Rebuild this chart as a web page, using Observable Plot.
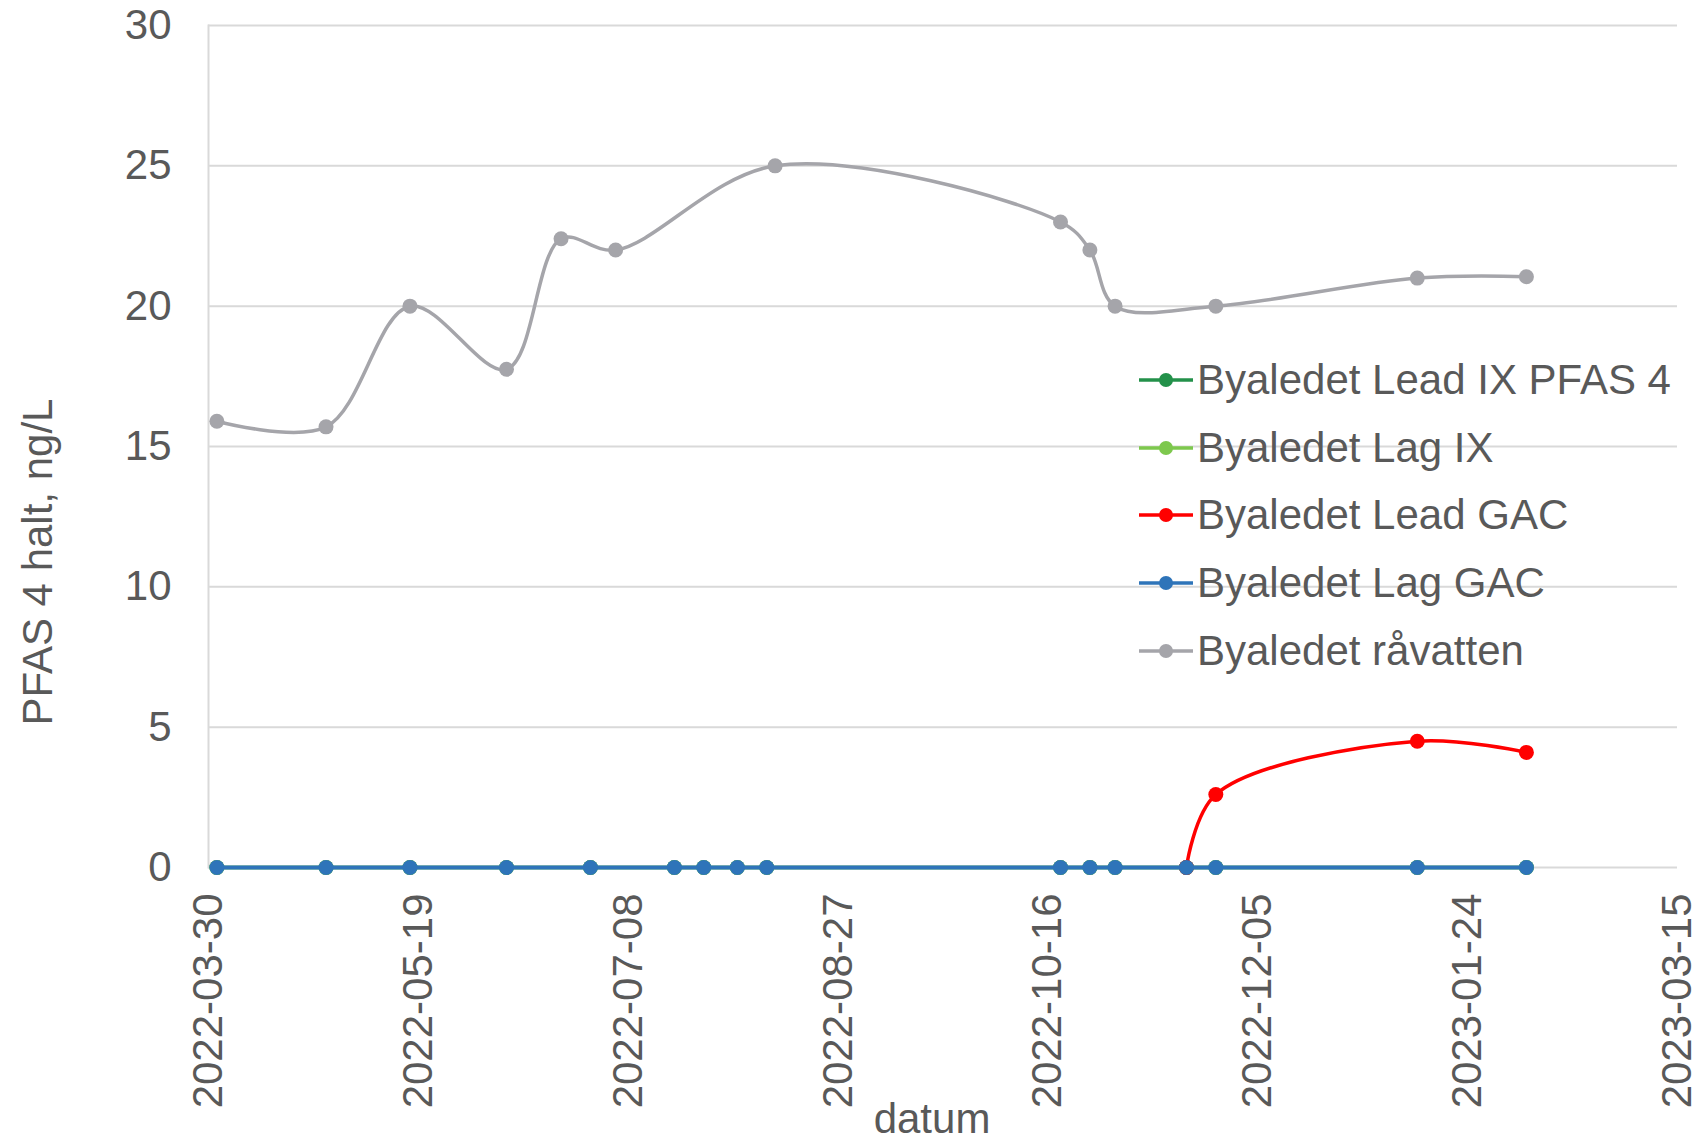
<!DOCTYPE html>
<html><head><meta charset="utf-8">
<script src="https://cdn.jsdelivr.net/npm/d3@7"></script>
<script src="https://cdn.jsdelivr.net/npm/@observablehq/plot@0.6"></script>
<style>
body{margin:0;background:#fff;}
#wrap{position:relative;width:1708px;height:1139px;font-family:"Liberation Sans",Arial,sans-serif;}
.row{position:absolute;left:1139px;height:60px;display:flex;align-items:center;white-space:nowrap;font-size:42px;color:#595959;}
.row svg{margin-right:4px;}
.ytitle{position:absolute;left:38px;top:562px;transform:translate(-50%,-50%) rotate(-90deg);white-space:nowrap;font-size:42px;color:#595959;line-height:1;}
</style></head><body><div id="wrap"></div><script>
// ---- data ----
const seriesNames = ["Byaledet Lead IX PFAS 4","Byaledet Lag IX","Byaledet Lead GAC","Byaledet Lag GAC","Byaledet råvatten"];
const seriesColors = ["#23914A","#7DC84D","#FF0000","#2E74B9","#A5A5AA"];

const lagGacDates = ["2022-04-01","2022-04-27","2022-05-17","2022-06-09","2022-06-29","2022-07-19","2022-07-26","2022-08-03","2022-08-10","2022-10-19","2022-10-26","2022-11-01","2022-11-18","2022-11-25","2023-01-12","2023-02-07"];
const lagGacValues = [0,0,0,0,0,0,0,0,0,0,0,0,0,0,0,0];
const leadIxDates = lagGacDates;
const leadIxValues = [0,0,0,0,0,0,0,0,0,0,0,0,0,0,0,0];
const lagIxDates = lagGacDates;
const lagIxValues = [0,0,0,0,0,0,0,0,0,0,0,0,0,0,0,0];
const leadGacDates = ["2022-11-18","2022-11-25","2023-01-12","2023-02-07"];
const leadGacValues = [0,2.6,4.5,4.1];
const rawDates = ["2022-04-01","2022-04-27","2022-05-17","2022-06-09","2022-06-22","2022-07-05","2022-08-12","2022-10-19","2022-10-26","2022-11-01","2022-11-25","2023-01-12","2023-02-07"];
const rawValues = [15.9,15.7,20.0,17.75,22.4,22.0,25.0,23.0,22.0,20.0,20.0,21.0,21.05];

const xTickLabels = ["2022-03-30","2022-05-19","2022-07-08","2022-08-27","2022-10-16","2022-12-05","2023-01-24","2023-03-15"];
const yTicks = [0,5,10,15,20,25,30];
const xLabel = "datum";
const yLabel = "PFAS 4 halt, ng/L";

// ---- build ----
const parse = d3.utcParse("%Y-%m-%d");
const fmt = d3.utcFormat("%Y-%m-%d");
const xTicks = xTickLabels.map(parse);
function rows(dates, values){ return dates.map((d,i)=>({date: parse(d), value: values[i]})); }
const series = [
  {data: rows(leadIxDates, leadIxValues), sw: 3.5},
  {data: rows(lagIxDates, lagIxValues), sw: 3.5},
  {data: rows(leadGacDates, leadGacValues), sw: 3.5},
  {data: rows(lagGacDates, lagGacValues), sw: 4},
  {data: rows(rawDates, rawValues), sw: 3.5}
].map((s,i)=>({...s, name: seriesNames[i], color: seriesColors[i]}));

const marks = [
  Plot.gridY(yTicks, {stroke:"#D9D9D9", strokeOpacity:1, strokeWidth:2}),
  Plot.frame({anchor:"left", stroke:"#D9D9D9", strokeWidth:2}),
  Plot.axisY(yTicks, {tickSize:0, tickPadding:37, fontSize:42, color:"#595959", label:null}),
  Plot.axisX(xTicks, {tickSize:0, tickRotate:-90, tickPadding:26, fontSize:42, color:"#595959", tickFormat: fmt, label:null})
];
for (const s of series) {
  marks.push(Plot.line(s.data, {x:"date", y:"value", stroke:s.color, strokeWidth:s.sw, curve:"catmull-rom"}));
  marks.push(Plot.dot(s.data, {x:"date", y:"value", fill:s.color, r:7.5}));
}
marks.push(Plot.text([xLabel], {frameAnchor:"bottom", dx:-11, dy:265, lineAnchor:"bottom", fontSize:42, fill:"#595959"}));

const chart = Plot.plot({
  width:1708, height:1139,
  marginLeft:208, marginRight:31, marginTop:25, marginBottom:272,
  style:{fontFamily:'"Liberation Sans", Arial, sans-serif', background:"#fff", overflow:"visible"},
  x:{type:"utc", domain:[xTicks[0], xTicks[xTicks.length-1]]},
  y:{domain:[0,30]},
  marks
});
const wrap = document.getElementById("wrap");
wrap.appendChild(chart);

const yt = document.createElement("div");
yt.className = "ytitle";
yt.textContent = yLabel;
wrap.appendChild(yt);

// legend
const legendY = [380, 448, 515, 583, 651];
seriesNames.forEach((n,i)=>{
  const row = document.createElement("div");
  row.className = "row";
  row.style.top = (legendY[i]-30) + "px";
  row.innerHTML = `<svg width="54" height="20"><line x1="0" x2="54" y1="10" y2="10" stroke="${seriesColors[i]}" stroke-width="3.5"/><circle cx="27" cy="10" r="7" fill="${seriesColors[i]}"/></svg><span>${n}</span>`;
  wrap.appendChild(row);
});
</script></body></html>
